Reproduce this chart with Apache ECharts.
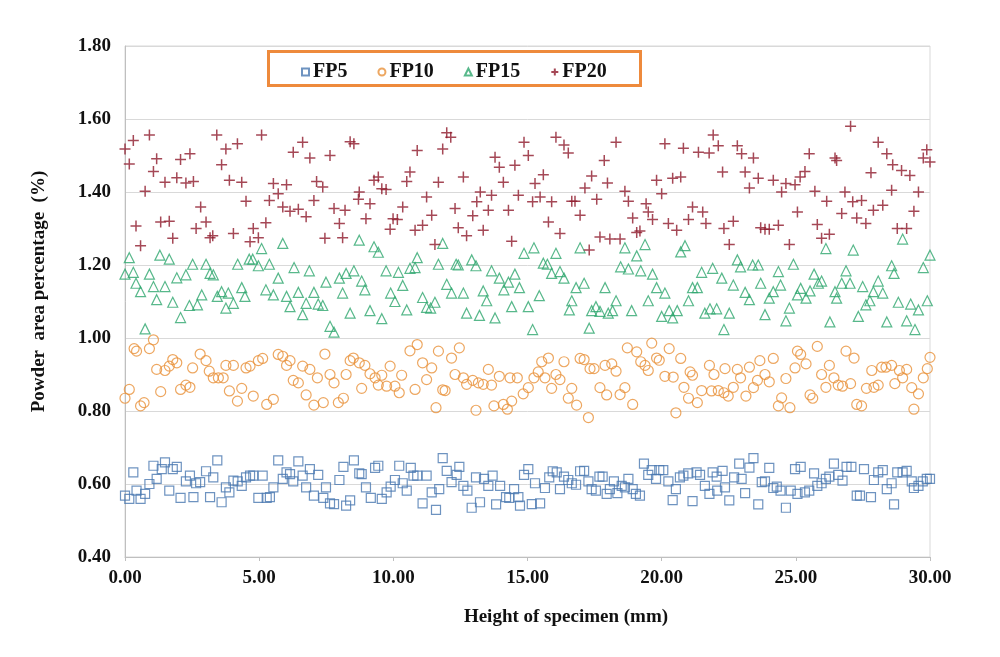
<!DOCTYPE html>
<html>
<head>
<meta charset="utf-8">
<script src="https://cdn.jsdelivr.net/npm/echarts@6/dist/echarts.min.js"></script>
<style>
html,body{margin:0;padding:0;background:#fff;}
#chart{width:1000px;height:657px;}
</style>
</head>
<body>
<div id="chart"></div>
<script>
const seriesNames = ['FP5', 'FP10', 'FP15', 'FP20'];
const xTicks = [0, 5, 10, 15, 20, 25, 30];
const yTicks = [0.4, 0.6, 0.8, 1.0, 1.2, 1.4, 1.6, 1.8];

const fp5 = [
[0.00,0.568],[0.16,0.559],[0.31,0.632],[0.43,0.582],[0.58,0.559],[0.75,0.573],[0.91,0.600],[1.06,0.650],[1.18,0.614],[1.37,0.641],[1.49,0.659],[1.65,0.582],[1.78,0.641],[1.93,0.647],[2.07,0.562],[2.27,0.607],[2.42,0.623],[2.55,0.564],[2.65,0.602],[2.80,0.605],[3.02,0.635],[3.17,0.564],[3.29,0.618],[3.44,0.665],[3.60,0.550],[3.76,0.591],[3.89,0.577],[4.04,0.609],[4.20,0.607],[4.35,0.595],[4.51,0.618],[4.66,0.623],[4.78,0.623],[4.97,0.562],[5.13,0.623],[5.28,0.562],[5.40,0.564],[5.53,0.591],[5.71,0.665],[5.88,0.614],[6.02,0.632],[6.15,0.627],[6.27,0.607],[6.46,0.662],[6.62,0.623],[6.75,0.591],[6.89,0.641],[7.04,0.568],[7.20,0.625],
[7.39,0.562],[7.49,0.591],[7.64,0.547],[7.79,0.545],[7.99,0.611],[8.14,0.647],[8.24,0.541],[8.39,0.555],[8.53,0.665],[8.73,0.629],[8.82,0.627],[8.98,0.591],[9.16,0.562],[9.32,0.644],[9.44,0.650],[9.57,0.559],[9.75,0.577],[9.90,0.593],[10.06,0.611],[10.22,0.650],[10.35,0.602],[10.50,0.582],[10.65,0.644],[10.75,0.623],[10.89,0.623],[11.09,0.547],[11.24,0.623],[11.43,0.577],[11.59,0.529],[11.71,0.586],[11.84,0.671],[11.99,0.636],[12.17,0.605],[12.36,0.625],[12.46,0.647],[12.61,0.595],[12.76,0.582],[12.92,0.535],[13.08,0.618],[13.23,0.550],[13.38,0.614],[13.54,0.595],[13.70,0.623],[13.83,0.544],[13.98,0.595],[14.20,0.564],[14.32,0.562],[14.50,0.586],[14.66,0.564],
[14.72,0.541],[14.87,0.625],[15.03,0.641],[15.16,0.545],[15.28,0.602],[15.47,0.547],[15.65,0.589],[15.81,0.618],[15.94,0.635],[16.09,0.632],[16.21,0.586],[16.36,0.620],[16.52,0.611],[16.65,0.602],[16.81,0.598],[16.96,0.635],[17.11,0.636],[17.27,0.607],[17.39,0.586],[17.55,0.582],[17.68,0.620],[17.80,0.620],[17.95,0.573],[18.07,0.586],[18.22,0.607],[18.35,0.575],[18.51,0.595],[18.63,0.591],[18.76,0.614],[18.92,0.586],[19.04,0.573],[19.19,0.568],[19.34,0.656],[19.50,0.625],[19.63,0.638],[19.79,0.614],[19.91,0.638],[20.06,0.638],[20.25,0.607],[20.41,0.556],[20.53,0.586],[20.68,0.618],[20.81,0.623],[20.99,0.629],[21.15,0.553],[21.30,0.632],[21.43,0.625],[21.61,0.595],[21.78,0.573],[21.90,0.632],[22.05,0.620],
[22.07,0.582],[22.27,0.636],[22.36,0.591],[22.52,0.555],[22.70,0.618],[22.89,0.656],[22.98,0.614],[23.11,0.575],[23.27,0.645],[23.42,0.671],[23.60,0.544],[23.73,0.605],[23.85,0.607],[24.01,0.644],[24.16,0.589],[24.29,0.593],[24.43,0.582],[24.63,0.535],[24.81,0.582],[24.97,0.641],[25.06,0.573],[25.18,0.647],[25.34,0.577],[25.50,0.582],[25.68,0.629],[25.80,0.595],[25.96,0.602],[26.12,0.614],[26.25,0.620],[26.42,0.656],[26.58,0.625],[26.74,0.609],[26.89,0.647],[27.07,0.647],[27.27,0.568],[27.39,0.568],[27.54,0.641],[27.80,0.564],[27.91,0.611],[28.07,0.632],[28.24,0.638],[28.39,0.586],[28.57,0.602],[28.66,0.544],[28.78,0.632],[28.98,0.632],[29.13,0.636],[29.32,0.607],[29.40,0.589],[29.57,0.595],[29.73,0.607],[29.88,0.614],[30.00,0.614]
];

const fp10 = [
[0.34,0.971],[0.43,0.964],[0.91,0.971],[1.06,0.995],[1.78,0.941],[1.93,0.932],[1.18,0.914],[1.49,0.911],[1.65,0.923],[2.80,0.956],[3.02,0.938],[2.52,0.918],[3.14,0.909],[3.29,0.891],[3.48,0.891],[3.66,0.891],[3.76,0.925],[4.04,0.925],[4.51,0.918],[4.66,0.923],[4.97,0.938],[5.13,0.944],[5.71,0.955],[5.88,0.950],[6.15,0.938],[6.02,0.925],[6.62,0.923],[6.89,0.914],[6.27,0.884],[6.46,0.877],[0.16,0.859],[0.00,0.835],[0.58,0.814],[0.71,0.823],[1.33,0.853],[2.07,0.859],[2.27,0.871],[2.42,0.865],[3.89,0.855],[4.35,0.862],[4.19,0.827],[4.78,0.841],[5.28,0.818],[5.53,0.832],[6.75,0.844],[7.04,0.816],
[7.17,0.891],[7.45,0.956],[7.64,0.900],[7.79,0.877],[8.24,0.900],[8.39,0.938],[8.51,0.945],[8.73,0.932],[8.94,0.925],[9.13,0.902],[9.32,0.891],[9.57,0.898],[9.44,0.871],[9.75,0.868],[10.06,0.868],[9.88,0.923],[10.31,0.898],[10.22,0.850],[8.82,0.862],[7.39,0.823],[7.95,0.823],[8.14,0.835],[10.62,0.965],[10.89,0.982],[10.81,0.859],[11.09,0.932],[11.24,0.886],[11.43,0.918],[11.68,0.964],[11.93,0.856],[11.84,0.858],[12.17,0.945],[12.46,0.973],[12.30,0.900],[12.61,0.891],[12.73,0.873],[12.96,0.884],[13.17,0.877],[13.35,0.873],[13.66,0.871],[13.54,0.914],[13.95,0.895],[11.59,0.809],[13.08,0.802],[13.75,0.814],[14.10,0.818],[14.25,0.805],[14.41,0.827],
[14.35,0.891],[14.62,0.891],[14.84,0.847],[15.03,0.864],[15.24,0.891],[15.40,0.907],[15.53,0.935],[15.78,0.945],[15.65,0.891],[15.90,0.862],[16.06,0.900],[16.21,0.886],[16.36,0.935],[16.52,0.835],[16.65,0.862],[16.83,0.816],[16.96,0.944],[17.11,0.941],[17.33,0.916],[17.48,0.916],[17.27,0.782],[17.70,0.864],[17.95,0.844],[17.89,0.925],[18.14,0.929],[18.30,0.909],[18.45,0.845],[18.63,0.864],[18.72,0.973],[18.92,0.818],[19.07,0.962],[19.22,0.935],[19.38,0.925],[19.50,0.911],[19.63,0.986],[19.81,0.945],[19.91,0.939],[20.12,0.895],[20.28,0.971],[20.43,0.893],[20.71,0.944],[20.53,0.795],[20.83,0.865],[21.06,0.907],[21.15,0.898],[21.00,0.835],[21.33,0.823],[21.49,0.856],[21.78,0.925],[21.86,0.855],[22.11,0.856],
[21.95,0.900],[22.36,0.916],[22.32,0.850],[22.48,0.841],[22.67,0.865],[22.82,0.914],[22.94,0.891],[23.14,0.841],[23.27,0.920],[23.42,0.864],[23.57,0.884],[23.66,0.938],[23.85,0.900],[24.01,0.880],[24.16,0.944],[24.47,0.836],[24.35,0.814],[24.78,0.809],[24.63,0.889],[24.97,0.918],[25.06,0.964],[25.18,0.955],[25.38,0.929],[25.53,0.844],[25.63,0.835],[25.80,0.977],[25.96,0.900],[26.12,0.865],[26.25,0.925],[26.42,0.891],[26.58,0.871],[26.74,0.868],[26.87,0.964],[27.04,0.875],[27.17,0.945],[27.27,0.818],[27.45,0.814],[27.63,0.862],[27.83,0.911],[27.91,0.865],[28.07,0.871],[28.20,0.920],[28.36,0.920],[28.57,0.925],[28.69,0.875],[28.86,0.911],[29.13,0.914],[28.98,0.891],[29.32,0.864],[29.57,0.847],[29.40,0.805],[29.75,0.891],[29.90,0.916],[30.00,0.947]
];

const fp15 = [
[0.16,1.220],[0.00,1.175],[0.31,1.180],[0.91,1.175],[0.41,1.150],[0.58,1.127],[1.06,1.141],[1.49,1.141],[1.18,1.105],[1.30,1.227],[1.65,1.216],[1.78,1.098],[2.07,1.056],[1.93,1.165],[2.27,1.173],[2.52,1.202],[2.40,1.089],[2.70,1.091],[2.86,1.118],[3.02,1.202],[3.17,1.177],[3.29,1.173],[3.60,1.127],[3.85,1.123],[3.44,1.114],[3.76,1.082],[4.04,1.095],[4.35,1.138],[4.47,1.114],[4.20,1.202],[4.63,1.216],[4.76,1.216],[4.97,1.198],[5.09,1.245],[5.38,1.202],[5.71,1.164],[5.25,1.132],[5.53,1.118],[6.02,1.114],[6.15,1.086],[5.88,1.259],[6.30,1.193],[6.46,1.125],[6.75,1.095],[6.62,1.064],[6.87,1.184],[7.04,1.125],[7.20,1.093],[0.75,1.025],
[7.37,1.089],[7.49,1.153],[7.99,1.164],[8.24,1.177],[8.53,1.184],[8.11,1.123],[8.82,1.156],[8.94,1.132],[8.73,1.268],[9.28,1.250],[9.44,1.235],[8.39,1.068],[9.13,1.075],[9.57,1.053],[7.64,1.032],[7.79,1.016],[9.73,1.184],[10.19,1.180],[9.90,1.123],[10.06,1.100],[10.35,1.144],[10.50,1.077],[10.62,1.191],[10.81,1.193],[10.89,1.220],[11.09,1.111],[11.24,1.084],[11.39,1.082],[11.55,1.098],[11.68,1.202],[11.84,1.259],[11.99,1.147],[12.17,1.123],[12.34,1.202],[12.42,1.200],[12.61,1.123],[12.92,1.214],[13.08,1.198],[12.73,1.068],[13.21,1.062],[13.35,1.129],[13.48,1.102],[13.66,1.184],[13.79,1.055],[13.95,1.164],[14.12,1.132],[14.29,1.153],[14.53,1.175],[14.41,1.086],
[14.70,1.138],[15.03,1.086],[14.87,1.232],[15.24,1.247],[15.59,1.205],[15.74,1.202],[15.90,1.177],[16.21,1.182],[16.36,1.164],[16.06,1.232],[15.44,1.116],[15.19,1.023],[16.81,1.138],[17.11,1.150],[16.65,1.102],[16.56,1.077],[16.96,1.247],[17.30,1.027],[17.39,1.075],[17.55,1.086],[17.70,1.073],[18.01,1.068],[17.89,1.138],[18.17,1.075],[18.30,1.102],[18.47,1.195],[18.76,1.189],[18.63,1.247],[19.07,1.225],[19.22,1.184],[19.38,1.256],[19.66,1.175],[18.88,1.075],[19.50,1.102],[19.81,1.138],[20.12,1.123],[20.00,1.059],[20.28,1.075],[20.41,1.055],[20.58,1.075],[20.71,1.236],[20.87,1.253],[21.00,1.102],[21.15,1.138],[21.33,1.138],[21.49,1.180],[21.90,1.191],[21.61,1.068],[21.80,1.080],[22.05,1.080],
[22.24,1.164],[22.67,1.145],[22.52,1.068],[22.32,1.023],[22.82,1.214],[22.94,1.195],[23.39,1.200],[23.60,1.200],[23.11,1.125],[23.27,1.105],[23.69,1.150],[23.85,1.064],[24.01,1.109],[24.16,1.127],[24.35,1.182],[24.43,1.145],[24.63,1.047],[24.76,1.082],[24.91,1.202],[25.06,1.118],[25.18,1.136],[25.38,1.109],[25.53,1.129],[25.68,1.175],[25.84,1.150],[25.96,1.156],[26.12,1.245],[26.27,1.044],[26.46,1.127],[26.52,1.109],[26.71,1.150],[26.87,1.184],[27.02,1.150],[27.14,1.241],[27.33,1.059],[27.49,1.141],[27.61,1.091],[27.76,1.102],[27.89,1.127],[28.07,1.156],[28.24,1.123],[28.39,1.044],[28.57,1.198],[28.66,1.177],[28.82,1.098],[28.98,1.271],[29.13,1.047],[29.28,1.093],[29.44,1.023],[29.57,1.077],[29.75,1.193],[29.90,1.102],[30.00,1.227]
];

const fp20 = [
[0.00,1.518],[0.31,1.541],[0.91,1.556],[0.16,1.477],[1.18,1.491],[1.06,1.456],[2.07,1.489],[2.42,1.505],[1.49,1.427],[1.93,1.439],[2.27,1.425],[2.55,1.429],[0.75,1.402],[3.42,1.556],[3.76,1.518],[4.19,1.532],[3.60,1.475],[3.89,1.432],[4.35,1.427],[5.09,1.556],[4.51,1.375],[5.38,1.377],[5.71,1.395],[5.53,1.423],[6.02,1.420],[6.62,1.536],[6.27,1.509],[6.89,1.493],[7.14,1.429],[7.04,1.377],[5.88,1.359],[6.15,1.347],[6.46,1.353],[6.75,1.332],[2.82,1.359],[0.41,1.307],[1.33,1.318],[1.65,1.320],[3.02,1.318],[2.65,1.300],[1.78,1.273],[0.58,1.253],[3.17,1.275],[3.27,1.280],[4.04,1.286],[4.78,1.300],[5.25,1.316],[4.66,1.264],[4.97,1.275],
[7.37,1.414],[7.64,1.500],[8.39,1.538],[8.53,1.532],[7.79,1.355],[8.20,1.350],[7.99,1.314],[7.45,1.273],[8.11,1.275],[8.73,1.400],[8.70,1.380],[9.13,1.368],[9.28,1.432],[9.44,1.441],[9.57,1.409],[9.73,1.407],[8.98,1.327],[9.99,1.327],[10.15,1.325],[10.35,1.359],[9.88,1.298],[10.62,1.455],[10.50,1.429],[10.89,1.514],[11.24,1.386],[11.43,1.336],[11.09,1.309],[10.81,1.295],[11.55,1.256],[11.68,1.427],[11.84,1.518],[11.99,1.562],[12.14,1.550],[12.30,1.355],[12.61,1.441],[12.42,1.302],[12.73,1.280],[12.96,1.335],[13.11,1.373],[13.24,1.400],[13.35,1.295],[13.66,1.391],[13.54,1.350],[13.79,1.495],[13.95,1.468],[14.10,1.427],[14.29,1.350],[14.53,1.473],[14.41,1.265],[14.66,1.391],
[14.87,1.536],[15.03,1.500],[15.28,1.423],[15.59,1.447],[15.19,1.373],[15.47,1.386],[15.90,1.373],[16.06,1.550],[16.36,1.529],[16.52,1.507],[15.78,1.318],[16.21,1.286],[16.65,1.375],[16.77,1.375],[16.96,1.336],[17.14,1.411],[17.39,1.444],[17.58,1.380],[17.86,1.486],[17.98,1.425],[18.30,1.536],[17.30,1.241],[17.70,1.277],[18.07,1.271],[18.45,1.271],[18.63,1.402],[18.76,1.375],[18.92,1.329],[19.07,1.289],[19.19,1.293],[19.42,1.368],[19.50,1.345],[19.66,1.325],[19.81,1.432],[20.00,1.395],[20.12,1.532],[20.41,1.438],[20.71,1.441],[20.81,1.520],[20.25,1.314],[20.56,1.295],[21.00,1.325],[21.15,1.359],[21.37,1.509],[21.53,1.345],[21.65,1.314],[21.77,1.507],[21.92,1.556],[22.11,1.527],
[22.82,1.527],[22.98,1.505],[23.42,1.493],[22.27,1.455],[23.11,1.455],[23.60,1.438],[23.27,1.411],[24.16,1.432],[24.47,1.400],[24.63,1.423],[24.97,1.420],[25.16,1.441],[25.34,1.456],[25.50,1.505],[25.06,1.345],[25.71,1.402],[26.15,1.375],[22.32,1.300],[22.67,1.320],[22.52,1.256],[23.69,1.302],[23.85,1.298],[24.01,1.298],[24.35,1.309],[24.76,1.256],[25.80,1.311],[25.96,1.273],[26.25,1.284],[26.46,1.493],[26.52,1.486],[26.71,1.341],[26.83,1.400],[27.12,1.373],[27.45,1.377],[27.27,1.329],[27.61,1.314],[27.04,1.580],[27.80,1.453],[28.07,1.536],[28.39,1.505],[28.61,1.475],[28.94,1.459],[29.25,1.445],[27.89,1.350],[28.24,1.364],[28.57,1.405],[29.40,1.347],[29.57,1.400],[28.78,1.300],[29.13,1.300],[29.88,1.516],[29.75,1.493],[30.00,1.482]
];

const colors = ['#4a78b0', '#e8913a', '#2ea66e', '#8e1a2c'];
const symbols = ['rect', 'circle', 'triangle', 'path://M5,0L5,10M0,5L10,5'];
const sizes = [9, 10, 10, 11];
const widths = [1.2, 1.2, 1.2, 1.5];
const dataSets = [fp5, fp10, fp15, fp20];
const FONT = '"Liberation Serif", "Times New Roman", serif';
const FS = 19;

const chart = echarts.init(document.getElementById('chart'), null, {renderer: 'canvas'});
const series = seriesNames.map((name, i) => ({
  name: name,
  type: 'scatter',
  data: dataSets[i],
  symbol: symbols[i],
  symbolSize: sizes[i],
  itemStyle: {color: 'rgba(0,0,0,0)', borderColor: colors[i], borderWidth: widths[i]},
  emphasis: {disabled: true},
  z: 5
}));

chart.setOption({
  animation: false,
  backgroundColor: '#ffffff',
  grid: {left: 125, right: 70, top: 46, bottom: 100, show: true, borderColor: '#d9d9d9', borderWidth: 1},
  graphic: [{
    type: 'rect', left: 267, top: 50, z: 8,
    shape: {width: 372, height: 34},
    style: {fill: '#ffffff', stroke: '#ee8a3c', lineWidth: 3}
  }],
  legend: {
    data: seriesNames,
    left: 296, top: 57, z: 10,
    itemWidth: 7, itemHeight: 7, itemGap: 30,
    textStyle: {fontFamily: FONT, fontWeight: 'bold', fontSize: 20, color: '#111', padding: [0, 0, 0, -1]}
  },
  xAxis: {
    type: 'value', min: xTicks[0], max: xTicks[xTicks.length - 1], interval: 5,
    name: 'Height of specimen (mm)', nameLocation: 'middle', nameGap: 51,
    nameTextStyle: {fontFamily: FONT, fontWeight: 'bold', fontSize: FS, color: '#111', padding: [0, 0, 0, 77]},
    axisLine: {lineStyle: {color: '#bfbfbf'}},
    axisTick: {show: true, length: 4, lineStyle: {color: '#bfbfbf'}},
    splitLine: {show: false},
    axisLabel: {fontFamily: FONT, fontWeight: 'bold', fontSize: FS, color: '#111', margin: 12,
      formatter: v => v.toFixed(2)}
  },
  yAxis: {
    type: 'value', min: yTicks[0], max: yTicks[yTicks.length - 1], interval: 0.2,
    name: 'Powder  area percentage  (%)', nameLocation: 'middle', nameGap: 76, nameRotate: 90,
    nameTextStyle: {fontFamily: FONT, fontWeight: 'bold', fontSize: FS, color: '#111', padding: [0, 0, 0, 20]},
    axisLine: {show: true, lineStyle: {color: '#bfbfbf'}},
    axisTick: {show: false},
    splitLine: {show: true, lineStyle: {color: '#d9d9d9'}},
    axisLabel: {fontFamily: FONT, fontWeight: 'bold', fontSize: FS, color: '#111', margin: 14,
      formatter: v => v.toFixed(2)}
  },
  series: series
});
</script>
</body>
</html>
